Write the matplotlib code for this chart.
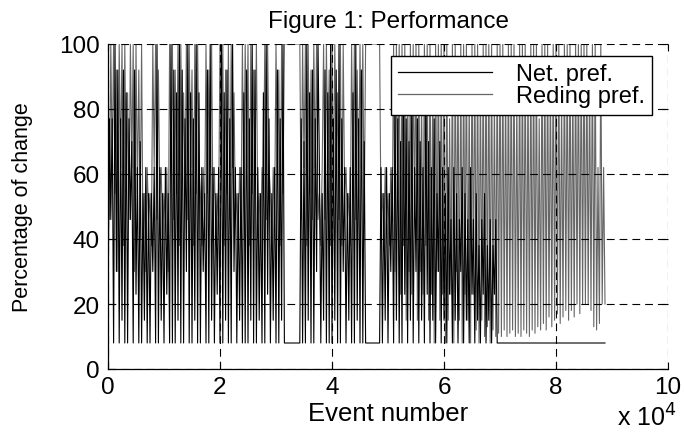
import matplotlib
matplotlib.use("Agg")
import matplotlib.pyplot as plt
import numpy as np

plt.rcParams['font.family'] = ['Liberation Sans', 'DejaVu Sans']

# Event step between samples (events)
event_step = 250

# Net. pref. (black) values, one per sample
net_pref = [
    15, 77, 46, 77, 8, 100, 30, 92, 8, 77,
    15, 92, 8, 85, 8, 77, 46, 70, 8, 92,
    23, 62, 8, 70, 8, 54, 15, 62, 8, 54,
    8, 54, 30, 62, 8, 100, 8, 62, 15, 54,
    8, 62, 23, 54, 8, 100, 8, 92, 8, 85,
    15, 100, 8, 92, 8, 77, 30, 100, 8, 85,
    8, 77, 15, 100, 8, 85, 8, 62, 30, 54,
    8, 92, 8, 100, 15, 62, 8, 54, 23, 62,
    8, 100, 8, 85, 15, 92, 8, 77, 8, 100,
    30, 62, 8, 54, 15, 62, 8, 85, 8, 92,
    8, 77, 15, 100, 8, 92, 8, 62, 15, 54,
    8, 85, 8, 100, 23, 77, 8, 54, 15, 62,
    8, 92, 8, 77, 15, 100, 8, 8, 8, 8,
    8, 8, 8, 8, 8, 8, 8, 8, 77, 8,
    70, 8, 100, 15, 85, 8, 92, 8, 77, 30,
    100, 62, 8, 54, 15, 92, 8, 85, 8, 100,
    8, 77, 15, 92, 8, 100, 8, 77, 30, 62,
    8, 54, 15, 62, 8, 85, 8, 100, 15, 77,
    8, 92, 8, 70, 8, 8, 8, 8, 8, 8,
    8, 8, 8, 8, 8, 62, 8, 54, 15, 62,
    8, 54, 30, 62, 8, 85, 15, 77, 8, 70,
    8, 85, 23, 77, 8, 70, 15, 85, 8, 62,
    30, 77, 8, 70, 15, 62, 8, 85, 23, 70,
    8, 62, 15, 77, 8, 54, 30, 70, 8, 62,
    15, 54, 8, 62, 23, 46, 8, 62, 15, 54,
    8, 46, 30, 62, 8, 54, 15, 46, 8, 62,
    23, 46, 8, 54, 15, 38, 8, 46, 23, 54,
    8, 38, 15, 46, 8, 38, 23, 46, 8, 8,
    8, 8, 8, 8, 8, 8, 8, 8, 8, 8,
    8, 8, 8, 8, 8, 8, 8, 8, 8, 8,
    8, 8, 8, 8, 8, 8, 8, 8, 8, 8,
    8, 8, 8, 8, 8, 8, 8, 8, 8, 8,
    8, 8, 8, 8, 8, 8, 8, 8, 8, 8,
    8, 8, 8, 8, 8, 8, 8, 8, 8, 8,
    8, 8, 8, 8, 8, 8, 8, 8, 8, 8,
    8, 8, 8, 8, 8, 8,
]

# Reding pref. (gray) values, one per sample
reding_pref = [
    100, 46, 100, 62, 100, 54, 92, 30, 100, 62,
    100, 38, 100, 54, 85, 46, 100, 62, 100, 30,
    100, 54, 92, 46, 100, 38, 54, 30, 62, 46,
    54, 38, 100, 62, 100, 46, 92, 54, 62, 38,
    54, 46, 62, 30, 100, 62, 100, 46, 92, 54,
    100, 38, 100, 62, 85, 54, 100, 46, 100, 62,
    92, 38, 100, 54, 100, 62, 54, 38, 62, 46,
    100, 54, 92, 62, 100, 46, 62, 38, 54, 46,
    100, 62, 100, 38, 92, 54, 100, 46, 100, 62,
    85, 46, 54, 38, 62, 46, 100, 54, 100, 62,
    100, 38, 100, 54, 92, 62, 100, 46, 54, 38,
    62, 54, 100, 46, 100, 62, 54, 38, 62, 46,
    100, 62, 92, 38, 100, 54, 100, 100, 100, 100,
    100, 100, 100, 100, 100, 100, 100, 100, 46, 100,
    62, 100, 38, 100, 54, 92, 46, 100, 62, 100,
    46, 54, 38, 62, 100, 46, 100, 62, 92, 38,
    100, 54, 100, 62, 85, 46, 100, 38, 100, 54,
    62, 46, 54, 38, 100, 62, 100, 46, 92, 54,
    100, 62, 100, 46, 100, 100, 100, 100, 100, 100,
    100, 100, 100, 100, 100, 46, 54, 38, 62, 46,
    54, 38, 62, 46, 100, 30, 100, 54, 100, 23,
    100, 38, 100, 15, 92, 30, 100, 23, 100, 46,
    100, 15, 100, 30, 85, 23, 100, 38, 100, 15,
    100, 23, 92, 8, 100, 30, 100, 15, 100, 23,
    100, 8, 100, 15, 77, 23, 100, 8, 100, 30,
    92, 15, 100, 8, 100, 23, 100, 15, 85, 8,
    100, 23, 100, 12, 100, 8, 92, 15, 100, 10,
    100, 13, 100, 8, 100, 12, 85, 10, 100, 11,
    100, 10, 100, 12, 92, 10, 100, 11, 100, 12,
    100, 10, 85, 11, 100, 10, 100, 12, 100, 11,
    92, 10, 100, 12, 100, 11, 100, 13, 77, 12,
    100, 14, 100, 12, 100, 16, 92, 13, 100, 15,
    100, 17, 100, 14, 85, 16, 100, 18, 100, 15,
    100, 18, 92, 16, 100, 20, 100, 17, 100, 20,
    100, 20, 100, 20, 92, 18, 100, 13, 100, 12,
    62, 14, 100, 20, 62, 20,
]

x_ticks = [0, 20000, 40000, 60000, 80000, 100000]
x_tick_labels = ["0", "2", "4", "6", "8", "10"]
y_ticks = [0, 20, 40, 60, 80, 100]

events_net = np.arange(len(net_pref)) * event_step
events_red = np.arange(len(reding_pref)) * event_step

fig = plt.figure(figsize=(6.85, 4.39), dpi=100)
ax = fig.add_axes([108 / 685, 1 - 370 / 439, 560 / 685, 325 / 439])

ax.plot(events_net, net_pref, color='black', lw=0.8, label='Net. pref.', zorder=2.2)
ax.plot(events_red, reding_pref, color='#666666', lw=0.8, label='Reding pref.', zorder=2.1)

ax.set_xlim(0, 100000)
ax.set_ylim(0, 100)
ax.set_xticks(x_ticks)
ax.set_xticklabels(x_tick_labels)
ax.set_yticks(y_ticks)

ax.grid(True, color='black', linestyle=(0, (7, 4.5)), linewidth=0.8)
ax.set_axisbelow(False)

for s in ['top', 'right']:
    ax.spines[s].set_visible(False)
for s in ['left', 'bottom']:
    ax.spines[s].set_linewidth(0.9)

ax.tick_params(direction='in', length=5, width=0.8, labelsize=17.5,
               top=True, right=True)
ax.tick_params(axis='x', pad=5)
ax.tick_params(axis='y', pad=6)

ax.set_xlabel('Event number', fontsize=18.5, labelpad=2)
ax.set_ylabel('Percentage of change', fontsize=15.5, labelpad=19)
ax.set_title('Figure 1: Performance', fontsize=17.5, pad=12)

fig.text(677 / 685, 1 - 427 / 439, r'x 10$^4$', fontsize=18, ha='right', va='baseline')

leg = ax.legend(loc='upper right', bbox_to_anchor=(0.971, 0.962), borderaxespad=0,
                fontsize=17, frameon=True, fancybox=False, framealpha=1,
                edgecolor='black', borderpad=0.3, labelspacing=0.0,
                handlelength=4.0, handletextpad=1.0)
leg.get_frame().set_linewidth(1.0)
for line in leg.get_lines():
    line.set_linewidth(0.9)
leg.set_zorder(5)

fig.savefig('out.png', dpi=100)
